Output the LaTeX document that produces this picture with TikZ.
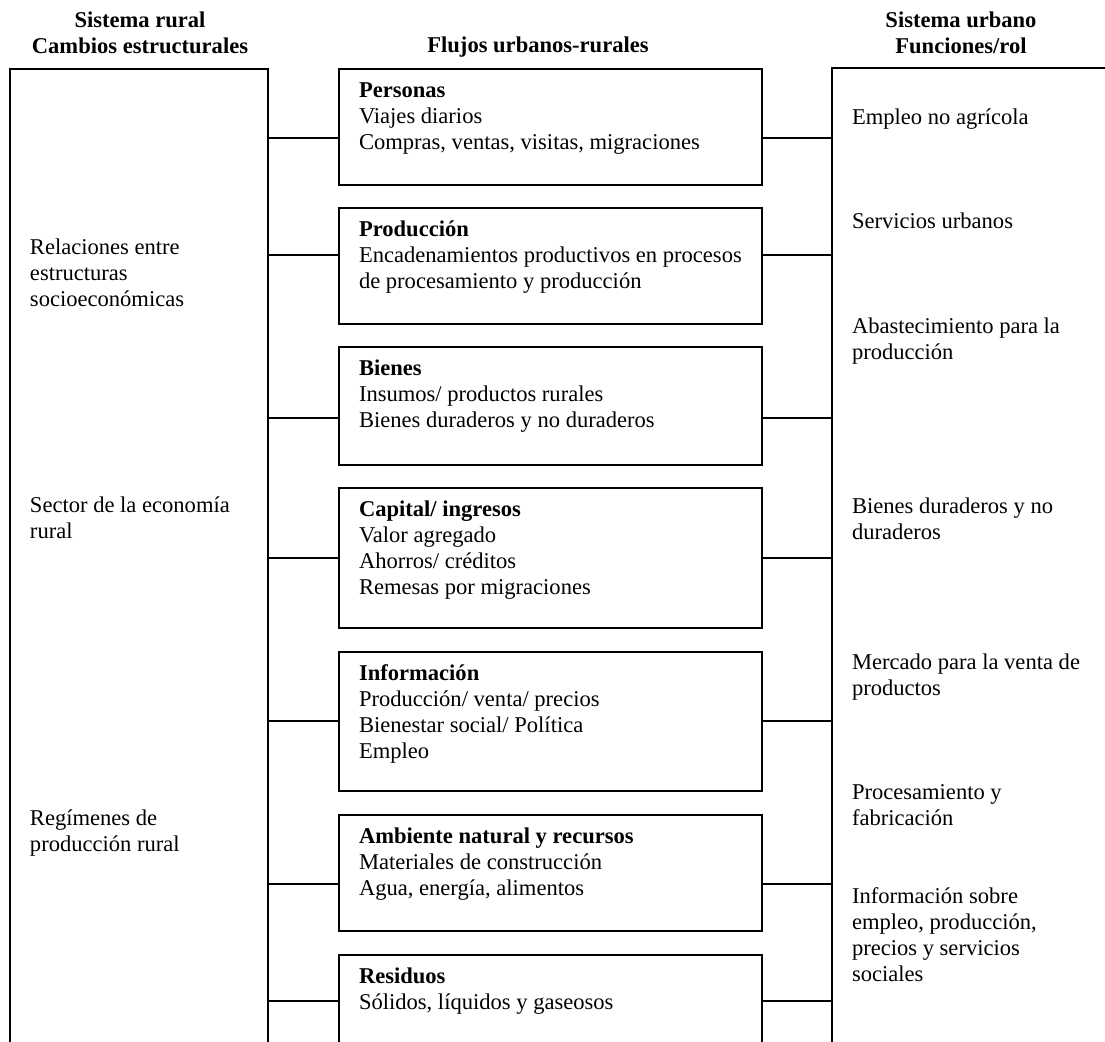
\documentclass[tikz,border=0pt]{standalone}
\usepackage{fontspec}
\setmainfont{Liberation Serif}
\begin{document}
\begin{tikzpicture}[x=0.5pt,y=-0.5pt,
  every node/.style={inner sep=0pt, outer sep=0pt},
  txt/.style={anchor=north west, align=left, font=\fontsize{11.28pt}{13pt}\selectfont},
  hdr/.style={anchor=north, align=center, font=\fontsize{11.28pt}{13pt}\selectfont\bfseries},
  flow/.style={draw, line width=1pt, rectangle, anchor=north west, minimum width=211.5pt},
  side/.style={draw, line width=1pt, rectangle, anchor=north west},
  link/.style={line width=1pt}]
\useasboundingbox (0,0) rectangle (1105,1042);
\clip (0,0) rectangle (1105,1042);

% headers
\node[hdr] (h1) at (140,9.8) {\strut Sistema rural\\Cambios estructurales};
\node[hdr] (h2) at (538,34.8) {\strut Flujos urbanos-rurales};
\node[hdr] (h3) at (961,9.8) {\strut Sistema urbano\\Funciones/rol};

% side boxes (open at the bottom, clipped)
\node[side, minimum width=129pt, minimum height=520pt] (L) at (10,69) {};
\node[side, minimum width=150pt, minimum height=520pt] (R) at (832,68) {};

% flow boxes
\node[flow, minimum height=58pt]   (B1) at (339,69)  {};
\node[flow, minimum height=58pt]   (B2) at (339,208) {};
\node[flow, minimum height=59pt]   (B3) at (339,347) {};
\node[flow, minimum height=70pt]   (B4) at (339,488) {};
\node[flow, minimum height=69.5pt] (B5) at (339,652) {};
\node[flow, minimum height=58pt]   (B6) at (339,815) {};
\node[flow, minimum height=75pt]   (B7) at (339,955) {};

% connector heights
\coordinate (k1) at (0,138);
\coordinate (k2) at (0,255);
\coordinate (k3) at (0,418);
\coordinate (k4) at (0,558);
\coordinate (k5) at (0,721);
\coordinate (k6) at (0,884);
\coordinate (k7) at (0,1001);
\foreach \i in {1,...,7}{
  \draw[link] (L.east |- k\i) -- (B\i.west |- k\i);
  \draw[link] (B\i.east |- k\i) -- (R.west |- k\i);
}

% flow texts
\node[txt] (t1) at (359,79.8)  {\strut\textbf{Personas}\\Viajes diarios\\Compras, ventas, visitas, migraciones};
\node[txt] (t2) at (359,218.8) {\strut\textbf{Producción}\\Encadenamientos productivos en procesos\\de procesamiento y producción};
\node[txt] (t3) at (359,357.8) {\strut\textbf{Bienes}\\Insumos/ productos rurales\\Bienes duraderos y no duraderos};
\node[txt] (t4) at (359,498.8) {\strut\textbf{Capital/ ingresos}\\Valor agregado\\Ahorros/ créditos\\Remesas por migraciones};
\node[txt] (t5) at (359,662.8) {\strut\textbf{Información}\\Producción/ venta/ precios\\Bienestar social/ Política\\Empleo};
\node[txt] (t6) at (359,825.8) {\strut\textbf{Ambiente natural y recursos}\\Materiales de construcción\\Agua, energía, alimentos};
\node[txt] (t7) at (359,965.8) {\strut\textbf{Residuos}\\Sólidos, líquidos y gaseosos};

% rural texts
\node[txt] (l1) at (30,236.8) {\strut Relaciones entre\\estructuras\\socioeconómicas};
\node[txt] (l2) at (30,494.8) {\strut Sector de la economía\\rural};
\node[txt] (l3) at (30,807.8) {\strut Regímenes de\\producción rural};

% urban texts
\node[txt] (r1) at (852,106.8) {\strut Empleo no agrícola};
\node[txt] (r2) at (852,210.8) {\strut Servicios urbanos};
\node[txt] (r3) at (852,315.8) {\strut Abastecimiento para la\\producción};
\node[txt] (r4) at (852,495.8) {\strut Bienes duraderos y no\\duraderos};
\node[txt] (r5) at (852,651.8) {\strut Mercado para la venta de\\productos};
\node[txt] (r6) at (852,781.8) {\strut Procesamiento y\\fabricación};
\node[txt] (r7) at (852,885.8) {\strut Información sobre\\empleo, producción,\\precios y servicios\\sociales};
\end{tikzpicture}
\end{document}
